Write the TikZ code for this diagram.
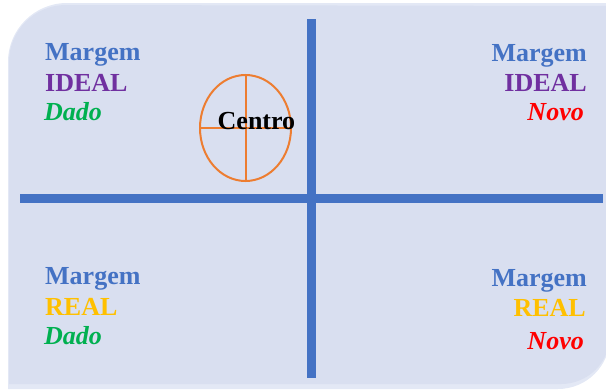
\documentclass[tikz,border=0pt]{standalone}
\usepackage{fontspec}
\usetikzlibrary{shapes.geometric}
\setmainfont{Liberation Serif}
\definecolor{bgfill}{HTML}{D9DFF0}
\definecolor{bgedge}{HTML}{E3E8F5}
\definecolor{axisblue}{HTML}{4472C4}
\definecolor{marblue}{HTML}{4472C4}
\definecolor{idealpurple}{HTML}{7030A0}
\definecolor{dadogreen}{HTML}{00B050}
\definecolor{novored}{HTML}{FF0000}
\definecolor{realgold}{HTML}{FFC000}
\definecolor{centreorange}{HTML}{ED7D31}
\begin{document}
\begin{tikzpicture}[x=1pt,y=-1pt,
  lbl/.style={inner sep=0pt,font=\fontsize{26}{31}\selectfont\bfseries},
  lblit/.style={inner sep=0pt,font=\fontsize{26}{31}\selectfont\bfseries\itshape},
  axis/.style={draw=axisblue,line width=8.5pt},
  cross/.style={draw=centreorange,line width=2pt}]
\useasboundingbox (0,0) rectangle (606,391);
% background panel
\fill[bgedge] (8,62) arc[start angle=180,end angle=270,radius=59] -- (610,3) -- (610,337) arc[start angle=0,end angle=90,radius=52] -- (8,389) -- cycle;
\fill[bgfill] (9,62) arc[start angle=180,end angle=270,radius=57] -- (610,6) -- (610,335) arc[start angle=0,end angle=90,radius=49] -- (9,384) -- cycle;
% axes
\coordinate (vtop) at (311.7,19);
\coordinate (vbot) at (311.7,378);
\coordinate (hleft) at (20,198.3);
\coordinate (hright) at (603,198.3);
\draw[axis] (vtop) -- (vbot);
\draw[axis] (hleft) -- (hright);
% centre ellipse
\node[draw=centreorange,line width=2pt,ellipse,minimum width=91pt,minimum height=106pt,inner sep=0pt] (ell) at (245.5,128) {};
\draw[cross] (ell.west) -- (ell.east);
\draw[cross] (ell.north) -- (ell.south);
\node[lbl,anchor=base west] (centro) at (217.5,129) {Centro};
% top-left
\node[lbl,anchor=base west,text=marblue] (tlm) at (45,60) {Margem};
\node[lbl,anchor=base west,text=idealpurple] (tli) at (45,91) {IDEAL};
\node[lblit,anchor=base west,text=dadogreen] (tld) at (44,120) {Dado};
% top-right
\node[lbl,anchor=base east,text=marblue] (trm) at (587,61) {Margem};
\node[lbl,anchor=base east,text=idealpurple] (tri) at (587,91.5) {IDEAL};
\node[lblit,anchor=base east,text=novored] (trn) at (584,120) {Novo};
% bottom-left
\node[lbl,anchor=base west,text=marblue] (blm) at (45,284) {Margem};
\node[lbl,anchor=base west,text=realgold] (blr) at (45,315) {REAL};
\node[lblit,anchor=base west,text=dadogreen] (bld) at (44,344) {Dado};
% bottom-right
\node[lbl,anchor=base east,text=marblue] (brm) at (587,286.5) {Margem};
\node[lbl,anchor=base east,text=realgold] (brr) at (586,316.5) {REAL};
\node[lblit,anchor=base east,text=novored] (brn) at (584,349) {Novo};
\end{tikzpicture}
\end{document}
